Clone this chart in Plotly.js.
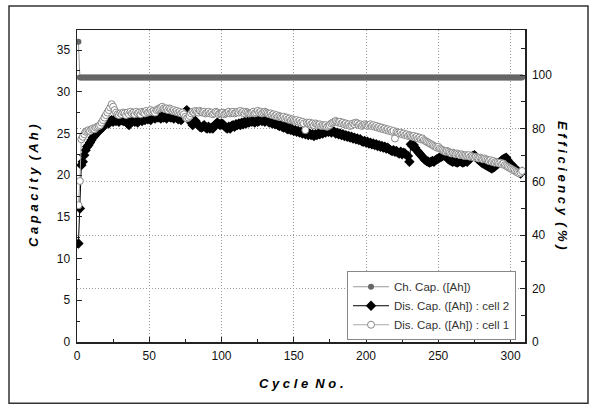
<!DOCTYPE html>
<html>
<head>
<meta charset="utf-8">
<script src="https://cdn.plot.ly/plotly-3.0.1.min.js"></script>
<style>html,body{margin:0;padding:0;background:#fff;}#chart{width:591px;height:406px;}</style>
</head>
<body>
<div id="chart"></div>
<script>
// Charge capacity (Ah) per cycle, cycles 1..308
const chargeCap = [
36.0,31.7,31.7,31.7,31.7,31.7,31.7,31.7,31.7,31.7,
31.7,31.7,31.7,31.7,31.7,31.7,31.7,31.7,31.7,31.7,
31.7,31.7,31.7,31.7,31.7,31.7,31.7,31.7,31.7,31.7,
31.7,31.7,31.7,31.7,31.7,31.7,31.7,31.7,31.7,31.7,
31.7,31.7,31.7,31.7,31.7,31.7,31.7,31.7,31.7,31.7,
31.7,31.7,31.7,31.7,31.7,31.7,31.7,31.7,31.7,31.7,
31.7,31.7,31.7,31.7,31.7,31.7,31.7,31.7,31.7,31.7,
31.7,31.7,31.7,31.7,31.7,31.7,31.7,31.7,31.7,31.7,
31.7,31.7,31.7,31.7,31.7,31.7,31.7,31.7,31.7,31.7,
31.7,31.7,31.7,31.7,31.7,31.7,31.7,31.7,31.7,31.7,
31.7,31.7,31.7,31.7,31.7,31.7,31.7,31.7,31.7,31.7,
31.7,31.7,31.7,31.7,31.7,31.7,31.7,31.7,31.7,31.7,
31.7,31.7,31.7,31.7,31.7,31.7,31.7,31.7,31.7,31.7,
31.7,31.7,31.7,31.7,31.7,31.7,31.7,31.7,31.7,31.7,
31.7,31.7,31.7,31.7,31.7,31.7,31.7,31.7,31.7,31.7,
31.7,31.7,31.7,31.7,31.7,31.7,31.7,31.7,31.7,31.7,
31.7,31.7,31.7,31.7,31.7,31.7,31.7,31.7,31.7,31.7,
31.7,31.7,31.7,31.7,31.7,31.7,31.7,31.7,31.7,31.7,
31.7,31.7,31.7,31.7,31.7,31.7,31.7,31.7,31.7,31.7,
31.7,31.7,31.7,31.7,31.7,31.7,31.7,31.7,31.7,31.7,
31.7,31.7,31.7,31.7,31.7,31.7,31.7,31.7,31.7,31.7,
31.7,31.7,31.7,31.7,31.7,31.7,31.7,31.7,31.7,31.7,
31.7,31.7,31.7,31.7,31.7,31.7,31.7,31.7,31.7,31.7,
31.7,31.7,31.7,31.7,31.7,31.7,31.7,31.7,31.7,31.7,
31.7,31.7,31.7,31.7,31.7,31.7,31.7,31.7,31.7,31.7,
31.7,31.7,31.7,31.7,31.7,31.7,31.7,31.7,31.7,31.7,
31.7,31.7,31.7,31.7,31.7,31.7,31.7,31.7,31.7,31.7,
31.7,31.7,31.7,31.7,31.7,31.7,31.7,31.7,31.7,31.7,
31.7,31.7,31.7,31.7,31.7,31.7,31.7,31.7,31.7,31.7,
31.7,31.7,31.7,31.7,31.7,31.7,31.7,31.7,31.7,31.7,
31.7,31.7,31.7,31.7,31.7,31.7,31.7,31.7
];

// Discharge capacity (Ah), cell 2 (filled diamonds)
const disCapCell2 = [
11.8,16.0,21.2,21.6,22.4,23.0,23.4,23.6,23.9,24.2,
24.5,24.7,24.9,25.1,25.3,25.5,25.6,25.8,26.0,26.2,
26.4,26.2,26.5,26.6,26.4,26.7,26.5,26.6,26.4,26.7,
26.6,26.5,26.8,26.4,26.2,26.0,26.3,26.5,26.6,26.4,
26.5,26.3,26.6,26.8,26.5,26.7,26.6,26.9,26.7,26.8,
26.6,26.9,27.0,26.8,27.1,26.9,27.0,26.8,27.1,26.9,
27.0,26.8,27.1,27.0,26.9,27.1,26.8,27.0,26.9,26.7,
26.9,26.6,26.8,27.2,27.6,27.8,27.2,26.6,26.3,26.0,
26.4,26.5,26.2,26.0,25.8,25.7,25.8,26.0,25.7,25.6,
25.8,25.6,25.7,25.6,25.9,26.1,26.3,26.2,26.0,26.2,
26.1,25.9,25.7,25.6,25.8,25.6,25.9,26.0,25.8,26.1,
26.0,26.2,26.0,26.3,26.1,26.4,26.2,26.4,26.3,26.5,
26.4,26.5,26.3,26.6,26.4,26.5,26.7,26.5,26.6,26.4,
26.6,26.5,26.3,26.4,26.2,26.3,26.1,26.2,26.0,25.9,
26.0,25.8,25.7,25.9,25.6,25.5,25.7,25.4,25.5,25.3,
25.4,25.2,25.3,25.1,25.2,25.0,25.2,24.9,25.1,24.8,
25.0,24.8,24.9,24.7,24.9,24.8,25.0,24.9,25.1,25.0,
25.2,25.1,25.3,25.2,25.3,25.1,25.3,25.2,25.0,25.1,
24.9,25.0,24.8,24.9,24.7,24.8,24.6,24.7,24.5,24.6,
24.4,24.5,24.3,24.4,24.2,24.3,24.1,24.0,24.1,23.9,
24.0,23.8,23.9,23.7,23.8,23.6,23.7,23.5,23.6,23.4,
23.5,23.3,23.4,23.2,23.3,23.1,23.0,22.9,23.0,22.8,
22.9,22.7,22.6,22.8,22.5,22.7,22.6,22.4,22.3,21.6,
23.7,23.5,23.6,23.3,23.0,22.8,22.6,22.4,22.2,22.0,
21.8,21.7,21.6,21.5,21.6,21.7,21.6,21.8,21.9,22.0,
22.1,22.2,22.3,22.4,22.3,22.1,21.9,21.8,21.7,21.6,
21.7,21.6,21.5,21.6,21.7,21.6,21.5,21.6,21.7,21.6,
21.8,22.0,22.2,22.3,22.4,22.2,22.0,21.8,21.7,21.5,
21.4,21.3,21.2,21.1,21.0,20.9,20.8,20.9,21.0,21.2,
21.3,21.5,21.6,21.8,21.9,22.0,22.1,21.8,21.5,21.3,
21.2,21.0,20.8,20.6,20.5,20.3,20.2,20.4
];

// Discharge capacity (Ah), cell 1 (open circles)
const disCapCell1 = [
16.4,19.3,24.3,24.6,24.9,25.2,25.3,25.4,25.3,25.5,
25.6,25.5,25.7,25.8,25.9,26.0,26.3,26.6,26.9,27.2,
27.5,27.8,28.1,28.5,28.2,27.8,27.5,27.3,27.2,27.4,
27.3,27.5,27.4,27.2,27.5,27.3,27.6,27.4,27.5,27.3,
27.6,27.4,27.5,27.3,27.6,27.5,27.4,27.7,27.5,27.6,
27.8,27.6,27.7,27.5,27.8,27.9,28.0,28.1,28.2,28.0,
27.9,28.0,27.8,28.0,27.9,27.7,27.8,27.6,27.7,27.5,
27.6,27.4,27.5,27.3,27.0,26.8,26.9,27.1,27.4,27.6,
27.5,27.7,27.6,27.5,27.7,27.6,27.5,27.6,27.4,27.5,
27.6,27.4,27.5,27.3,27.4,27.6,27.5,27.3,27.4,27.4,
27.5,27.3,27.4,27.5,27.6,27.4,27.5,27.6,27.4,27.5,
27.6,27.5,27.7,27.5,27.6,27.4,27.6,27.5,27.4,27.4,
27.5,27.6,27.4,27.5,27.7,27.5,27.6,27.4,27.5,27.6,
27.5,27.4,27.3,27.4,27.2,27.3,27.1,27.2,27.0,27.1,
27.0,26.9,27.0,26.8,26.9,26.7,26.8,26.6,26.7,26.6,
26.5,26.6,26.4,26.5,26.3,26.4,26.2,25.4,26.3,26.2,
26.3,26.1,26.2,26.0,26.2,26.1,26.0,26.1,25.9,26.0,
25.9,26.0,25.8,25.9,26.0,26.2,26.3,26.4,26.5,26.4,
26.3,26.4,26.2,26.3,26.1,26.2,26.0,26.1,25.9,26.0,
26.2,26.1,26.3,26.2,26.0,26.1,25.9,26.0,26.1,26.0,
25.9,26.0,26.1,25.9,26.0,25.8,25.9,25.7,25.8,25.6,
25.7,25.5,25.6,25.4,25.5,25.3,25.4,25.2,25.3,24.4,
25.2,25.1,25.0,25.1,24.9,25.0,24.8,24.9,24.7,24.8,
24.7,24.6,24.7,24.5,24.6,24.4,24.5,24.3,24.4,24.2,
24.1,24.0,23.9,23.8,23.7,23.6,23.5,23.4,23.3,23.4,
23.2,23.1,23.0,22.9,22.8,22.9,22.8,22.7,22.6,22.7,
22.6,22.5,22.6,22.5,22.4,22.5,22.4,22.3,22.4,22.3,
22.4,22.2,22.3,22.2,22.1,22.2,22.1,22.0,22.1,22.0,
21.9,22.0,21.9,21.8,21.7,21.8,21.6,21.7,21.5,21.6,
21.5,21.4,21.5,21.3,21.4,21.2,21.1,21.0,20.9,20.8,
20.7,20.6,20.5,20.4,20.3,20.2,20.3,20.5
];

const seriesNames = ["Ch. Cap. ([Ah])", "Dis. Cap. ([Ah]) : cell 2", "Dis. Cap. ([Ah]) : cell 1"];
const xTitle = "C y c l e \u00a0N o .";
const yTitle = "C a p a c i t y \u00a0( A h )";
const y2Title = "E f f i c i e n c y \u00a0( % )";

const cycles = disCapCell2.map((_, i) => i + 1);
const FONT = "Liberation Sans, Arial, sans-serif";

const traces = [
  {x: cycles, y: chargeCap, name: seriesNames[0], type: "scatter", mode: "lines+markers",
   line: {color: "#9a9a9a", width: 1}, marker: {symbol: "circle", size: 6, color: "#666666"}},
  {x: cycles, y: disCapCell2, name: seriesNames[1], type: "scatter", mode: "lines+markers",
   line: {color: "#000000", width: 1}, marker: {symbol: "diamond", size: 8, color: "#000000"}},
  {x: cycles, y: disCapCell1, name: seriesNames[2], type: "scatter", mode: "lines+markers",
   line: {color: "#aaaaaa", width: 1}, marker: {symbol: "circle", size: 7, color: "#ffffff", line: {color: "#8a8a8a", width: 1}}},
  {x: [], y: [], yaxis: "y2", showlegend: false, type: "scatter"}
];

const axisCommon = {
  showline: true, linecolor: "#222", linewidth: 1.5, zeroline: false,
  ticks: "inside", ticklen: 5, tickcolor: "#222", tickwidth: 1,
  tickfont: {family: FONT, size: 12, color: "#111"}
};

const layout = {
  width: 591, height: 406,
  margin: {l: 77, r: 66, t: 30, b: 64},
  paper_bgcolor: "#fff", plot_bgcolor: "#fff",
  showlegend: true,
  font: {family: FONT},
  xaxis: Object.assign({}, axisCommon, {
    range: [0, 310], dtick: 50, tick0: 0, mirror: true,
    showgrid: true, gridcolor: "#9a9a9a", griddash: "1px,2px", gridwidth: 1,
    minor: {dtick: 25, ticks: "inside", ticklen: 3, tickcolor: "#222", showgrid: false},
    ticklabelstandoff: 2
  }),
  yaxis: Object.assign({}, axisCommon, {
    range: [0, 37.4], dtick: 5, tick0: 0, showgrid: false,
    minor: {dtick: 2.5, ticks: "inside", ticklen: 3, tickcolor: "#222", showgrid: false},
    ticklabelstandoff: 3
  }),
  yaxis2: Object.assign({}, axisCommon, {
    overlaying: "y", side: "right", anchor: "x",
    range: [0, 116.9], dtick: 20, tick0: 0,
    showgrid: true, gridcolor: "#9a9a9a", griddash: "1px,2px", gridwidth: 1,
    minor: {dtick: 10, ticks: "inside", ticklen: 4, tickcolor: "#222", showgrid: false},
    ticklabelstandoff: 3
  }),
  legend: {
    x: 0.6027, y: 0.2268, xanchor: "left", yanchor: "top",
    bgcolor: "#fff", bordercolor: "#888", borderwidth: 1,
    font: {family: FONT, size: 11.5, color: "#333"},
    tracegroupgap: 0, itemwidth: 36
  },
  shapes: [
    {type: "rect", xref: "paper", yref: "paper",
     x0: -0.1518, x1: 1.1406, y0: -0.1967, y1: 1.077,
     line: {color: "#333", width: 1.5}, fillcolor: "rgba(0,0,0,0)", layer: "below"}
  ],
  annotations: [
    {text: xTitle, xref: "paper", yref: "paper", x: 0.5, y: -0.1325,
     xanchor: "center", yanchor: "middle", showarrow: false,
     font: {family: FONT, size: 13, color: "#000", weight: "bold", style: "italic"}},
    {text: yTitle, xref: "paper", yref: "paper", x: -0.0982, y: 0.5, textangle: -90,
     xanchor: "center", yanchor: "middle", showarrow: false,
     font: {family: FONT, size: 13, color: "#000", weight: "bold", style: "italic"}},
    {text: y2Title, xref: "paper", yref: "paper", x: 1.0848, y: 0.5, textangle: 90,
     xanchor: "center", yanchor: "middle", showarrow: false,
     font: {family: FONT, size: 13, color: "#000", weight: "bold", style: "italic"}}
  ]
};

Plotly.newPlot("chart", traces, layout, {staticPlot: true, displayModeBar: false});
</script>
</body>
</html>
